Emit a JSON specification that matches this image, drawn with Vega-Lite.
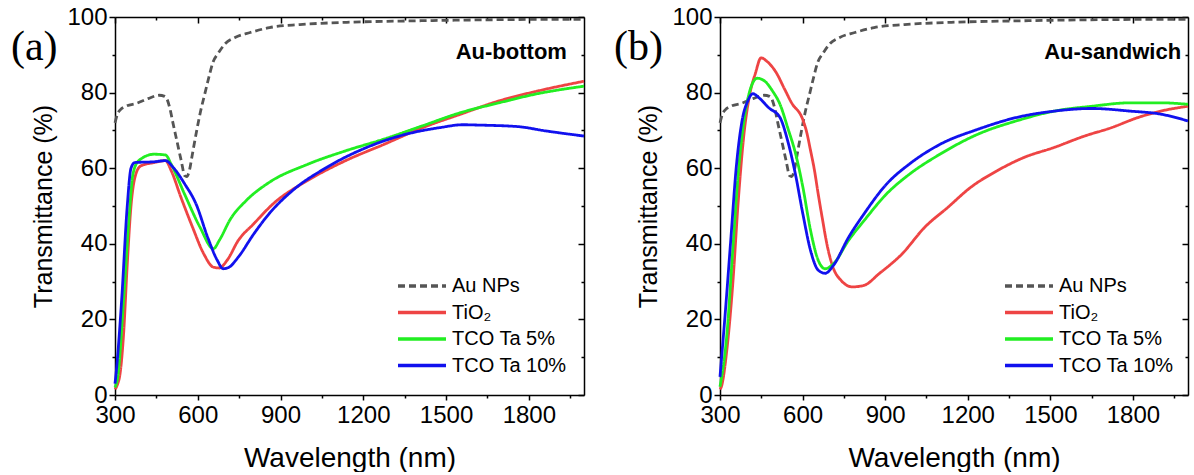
{
  "$schema": "https://vega.github.io/schema/vega-lite/v6.json",
  "padding": {"left": 10, "top": 5, "right": 0, "bottom": 0},
  "spacing": 24,
  "config": {
    "view": {"stroke": null},
    "axis": {"domainColor": "#000", "domainWidth": 1.5, "tickColor": "#000", "tickWidth": 1.5, "labelColor": "#000", "titleColor": "#000", "grid": false, "labelFont": "Liberation Sans", "titleFont": "Liberation Sans", "labelFontSize": 24, "titleFontSize": 25, "titleFontWeight": "normal", "labelFlush": false, "labelOverlap": false, "format": "d"},
    "legend": {"symbolType": "M-2.4,0L2.4,0", "symbolSize": 400, "symbolStrokeWidth": 3.5, "labelFont": "Liberation Sans", "labelFontSize": 20, "labelColor": "#000", "rowPadding": 4.5, "padding": 0, "labelOffset": 18}
  },
  "datasets": {
    "a": [
      {"series": "Au NPs", "wl": 300, "T": 72}, {"series": "Au NPs", "wl": 310, "T": 74.5}, {"series": "Au NPs", "wl": 320, "T": 75.5}, {"series": "Au NPs", "wl": 340, "T": 76.4}, {"series": "Au NPs", "wl": 380, "T": 77.2}, {"series": "Au NPs", "wl": 420, "T": 78.4}, {"series": "Au NPs", "wl": 460, "T": 79.3}, {"series": "Au NPs", "wl": 480, "T": 79}, {"series": "Au NPs", "wl": 490, "T": 78}, {"series": "Au NPs", "wl": 500, "T": 75.5}, {"series": "Au NPs", "wl": 510, "T": 72}, {"series": "Au NPs", "wl": 525, "T": 67}, {"series": "Au NPs", "wl": 540, "T": 62}, {"series": "Au NPs", "wl": 553, "T": 58}, {"series": "Au NPs", "wl": 560, "T": 57.8}, {"series": "Au NPs", "wl": 570, "T": 59.5}, {"series": "Au NPs", "wl": 580, "T": 63.5}, {"series": "Au NPs", "wl": 595, "T": 69.5}, {"series": "Au NPs", "wl": 610, "T": 75}, {"series": "Au NPs", "wl": 625, "T": 79.5}, {"series": "Au NPs", "wl": 640, "T": 84}, {"series": "Au NPs", "wl": 655, "T": 88}, {"series": "Au NPs", "wl": 675, "T": 90.5}, {"series": "Au NPs", "wl": 700, "T": 93}, {"series": "Au NPs", "wl": 735, "T": 94.6}, {"series": "Au NPs", "wl": 790, "T": 95.9}, {"series": "Au NPs", "wl": 860, "T": 97.2}, {"series": "Au NPs", "wl": 970, "T": 98}, {"series": "Au NPs", "wl": 1140, "T": 98.6}, {"series": "Au NPs", "wl": 1400, "T": 99}, {"series": "Au NPs", "wl": 1700, "T": 99.3}, {"series": "Au NPs", "wl": 2000, "T": 99.4},
      {"series": "TiO₂", "wl": 300, "T": 1.5}, {"series": "TiO₂", "wl": 310, "T": 3}, {"series": "TiO₂", "wl": 317, "T": 5}, {"series": "TiO₂", "wl": 331, "T": 16}, {"series": "TiO₂", "wl": 344, "T": 34}, {"series": "TiO₂", "wl": 358, "T": 50}, {"series": "TiO₂", "wl": 372, "T": 57.5}, {"series": "TiO₂", "wl": 393, "T": 60.6}, {"series": "TiO₂", "wl": 442, "T": 61.5}, {"series": "TiO₂", "wl": 483, "T": 62}, {"series": "TiO₂", "wl": 504, "T": 59.3}, {"series": "TiO₂", "wl": 539, "T": 52.3}, {"series": "TiO₂", "wl": 581, "T": 44.4}, {"series": "TiO₂", "wl": 622, "T": 37.3}, {"series": "TiO₂", "wl": 657, "T": 33.8}, {"series": "TiO₂", "wl": 678, "T": 33.6}, {"series": "TiO₂", "wl": 706, "T": 35.6}, {"series": "TiO₂", "wl": 747, "T": 40.9}, {"series": "TiO₂", "wl": 803, "T": 45.3}, {"series": "TiO₂", "wl": 872, "T": 50.5}, {"series": "TiO₂", "wl": 997, "T": 56.7}, {"series": "TiO₂", "wl": 1136, "T": 62}, {"series": "TiO₂", "wl": 1275, "T": 66.3}, {"series": "TiO₂", "wl": 1414, "T": 70.7}, {"series": "TiO₂", "wl": 1553, "T": 74.3}, {"series": "TiO₂", "wl": 1692, "T": 77.8}, {"series": "TiO₂", "wl": 1831, "T": 80.4}, {"series": "TiO₂", "wl": 2000, "T": 83},
      {"series": "TCO Ta 5%", "wl": 300, "T": 2}, {"series": "TCO Ta 5%", "wl": 310, "T": 4.8}, {"series": "TCO Ta 5%", "wl": 331, "T": 25}, {"series": "TCO Ta 5%", "wl": 351, "T": 47}, {"series": "TCO Ta 5%", "wl": 365, "T": 58.4}, {"series": "TCO Ta 5%", "wl": 386, "T": 62}, {"series": "TCO Ta 5%", "wl": 442, "T": 63.7}, {"series": "TCO Ta 5%", "wl": 483, "T": 63.5}, {"series": "TCO Ta 5%", "wl": 504, "T": 61}, {"series": "TCO Ta 5%", "wl": 553, "T": 53}, {"series": "TCO Ta 5%", "wl": 608, "T": 44.4}, {"series": "TCO Ta 5%", "wl": 657, "T": 38.7}, {"series": "TCO Ta 5%", "wl": 678, "T": 40.9}, {"series": "TCO Ta 5%", "wl": 719, "T": 46.6}, {"series": "TCO Ta 5%", "wl": 775, "T": 51.4}, {"series": "TCO Ta 5%", "wl": 858, "T": 56.2}, {"series": "TCO Ta 5%", "wl": 997, "T": 61}, {"series": "TCO Ta 5%", "wl": 1136, "T": 64.6}, {"series": "TCO Ta 5%", "wl": 1275, "T": 67.7}, {"series": "TCO Ta 5%", "wl": 1414, "T": 71.2}, {"series": "TCO Ta 5%", "wl": 1553, "T": 74.7}, {"series": "TCO Ta 5%", "wl": 1692, "T": 77.3}, {"series": "TCO Ta 5%", "wl": 1831, "T": 79.7}, {"series": "TCO Ta 5%", "wl": 2000, "T": 81.7},
      {"series": "TCO Ta 10%", "wl": 300, "T": 3}, {"series": "TCO Ta 10%", "wl": 303, "T": 5}, {"series": "TCO Ta 10%", "wl": 324, "T": 25}, {"series": "TCO Ta 10%", "wl": 344, "T": 49.6}, {"series": "TCO Ta 10%", "wl": 358, "T": 60}, {"series": "TCO Ta 10%", "wl": 372, "T": 61.5}, {"series": "TCO Ta 10%", "wl": 442, "T": 61.7}, {"series": "TCO Ta 10%", "wl": 483, "T": 62}, {"series": "TCO Ta 10%", "wl": 511, "T": 60.2}, {"series": "TCO Ta 10%", "wl": 553, "T": 55.8}, {"series": "TCO Ta 10%", "wl": 594, "T": 50.5}, {"series": "TCO Ta 10%", "wl": 636, "T": 41.7}, {"series": "TCO Ta 10%", "wl": 671, "T": 35.6}, {"series": "TCO Ta 10%", "wl": 692, "T": 33.4}, {"series": "TCO Ta 10%", "wl": 713, "T": 33.8}, {"series": "TCO Ta 10%", "wl": 747, "T": 36.5}, {"series": "TCO Ta 10%", "wl": 803, "T": 42.6}, {"series": "TCO Ta 10%", "wl": 858, "T": 47.9}, {"series": "TCO Ta 10%", "wl": 942, "T": 54}, {"series": "TCO Ta 10%", "wl": 1067, "T": 60.2}, {"series": "TCO Ta 10%", "wl": 1206, "T": 65.3}, {"series": "TCO Ta 10%", "wl": 1345, "T": 68.8}, {"series": "TCO Ta 10%", "wl": 1483, "T": 70.8}, {"series": "TCO Ta 10%", "wl": 1560, "T": 71.5}, {"series": "TCO Ta 10%", "wl": 1622, "T": 71.4}, {"series": "TCO Ta 10%", "wl": 1761, "T": 71}, {"series": "TCO Ta 10%", "wl": 1858, "T": 69.9}, {"series": "TCO Ta 10%", "wl": 2000, "T": 68.5}
    ],
    "b": [
      {"series": "Au NPs", "wl": 300, "T": 72}, {"series": "Au NPs", "wl": 310, "T": 74.5}, {"series": "Au NPs", "wl": 320, "T": 75.5}, {"series": "Au NPs", "wl": 340, "T": 76.4}, {"series": "Au NPs", "wl": 380, "T": 77.2}, {"series": "Au NPs", "wl": 420, "T": 78.4}, {"series": "Au NPs", "wl": 460, "T": 79.3}, {"series": "Au NPs", "wl": 480, "T": 79}, {"series": "Au NPs", "wl": 490, "T": 78}, {"series": "Au NPs", "wl": 500, "T": 75.5}, {"series": "Au NPs", "wl": 510, "T": 72}, {"series": "Au NPs", "wl": 525, "T": 67}, {"series": "Au NPs", "wl": 540, "T": 62}, {"series": "Au NPs", "wl": 553, "T": 58}, {"series": "Au NPs", "wl": 560, "T": 57.8}, {"series": "Au NPs", "wl": 570, "T": 59.5}, {"series": "Au NPs", "wl": 580, "T": 63.5}, {"series": "Au NPs", "wl": 595, "T": 69.5}, {"series": "Au NPs", "wl": 610, "T": 75}, {"series": "Au NPs", "wl": 625, "T": 79.5}, {"series": "Au NPs", "wl": 640, "T": 84}, {"series": "Au NPs", "wl": 655, "T": 88}, {"series": "Au NPs", "wl": 675, "T": 90.5}, {"series": "Au NPs", "wl": 700, "T": 93}, {"series": "Au NPs", "wl": 735, "T": 94.6}, {"series": "Au NPs", "wl": 790, "T": 95.9}, {"series": "Au NPs", "wl": 860, "T": 97.2}, {"series": "Au NPs", "wl": 970, "T": 98}, {"series": "Au NPs", "wl": 1140, "T": 98.6}, {"series": "Au NPs", "wl": 1400, "T": 99}, {"series": "Au NPs", "wl": 1700, "T": 99.3}, {"series": "Au NPs", "wl": 2000, "T": 99.4},
      {"series": "TiO₂", "wl": 300, "T": 1.5}, {"series": "TiO₂", "wl": 304, "T": 2}, {"series": "TiO₂", "wl": 325, "T": 12}, {"series": "TiO₂", "wl": 346, "T": 29}, {"series": "TiO₂", "wl": 366, "T": 51}, {"series": "TiO₂", "wl": 387, "T": 69}, {"series": "TiO₂", "wl": 408, "T": 79.5}, {"series": "TiO₂", "wl": 429, "T": 85.2}, {"series": "TiO₂", "wl": 449, "T": 89.2}, {"series": "TiO₂", "wl": 470, "T": 88.3}, {"series": "TiO₂", "wl": 505, "T": 85.2}, {"series": "TiO₂", "wl": 532, "T": 81.3}, {"series": "TiO₂", "wl": 560, "T": 77.3}, {"series": "TiO₂", "wl": 601, "T": 72.8}, {"series": "TiO₂", "wl": 615, "T": 69.5}, {"series": "TiO₂", "wl": 628, "T": 65}, {"series": "TiO₂", "wl": 643, "T": 59.5}, {"series": "TiO₂", "wl": 656, "T": 53.5}, {"series": "TiO₂", "wl": 671, "T": 47}, {"series": "TiO₂", "wl": 691, "T": 39}, {"series": "TiO₂", "wl": 712, "T": 33.5}, {"series": "TiO₂", "wl": 740, "T": 30.3}, {"series": "TiO₂", "wl": 781, "T": 28.6}, {"series": "TiO₂", "wl": 823, "T": 29}, {"series": "TiO₂", "wl": 878, "T": 32.1}, {"series": "TiO₂", "wl": 961, "T": 37.3}, {"series": "TiO₂", "wl": 1044, "T": 44.4}, {"series": "TiO₂", "wl": 1127, "T": 49.6}, {"series": "TiO₂", "wl": 1210, "T": 54.9}, {"series": "TiO₂", "wl": 1306, "T": 59.3}, {"series": "TiO₂", "wl": 1403, "T": 62.8}, {"series": "TiO₂", "wl": 1514, "T": 65.5}, {"series": "TiO₂", "wl": 1624, "T": 68.5}, {"series": "TiO₂", "wl": 1721, "T": 70.7}, {"series": "TiO₂", "wl": 1818, "T": 73.4}, {"series": "TiO₂", "wl": 1901, "T": 75.1}, {"series": "TiO₂", "wl": 2000, "T": 76.4},
      {"series": "TCO Ta 5%", "wl": 300, "T": 2.2}, {"series": "TCO Ta 5%", "wl": 325, "T": 16}, {"series": "TCO Ta 5%", "wl": 346, "T": 38}, {"series": "TCO Ta 5%", "wl": 366, "T": 58.4}, {"series": "TCO Ta 5%", "wl": 387, "T": 72.5}, {"series": "TCO Ta 5%", "wl": 408, "T": 80.4}, {"series": "TCO Ta 5%", "wl": 435, "T": 83.8}, {"series": "TCO Ta 5%", "wl": 463, "T": 83}, {"series": "TCO Ta 5%", "wl": 491, "T": 80.4}, {"series": "TCO Ta 5%", "wl": 518, "T": 76.9}, {"series": "TCO Ta 5%", "wl": 546, "T": 70.7}, {"series": "TCO Ta 5%", "wl": 574, "T": 64}, {"series": "TCO Ta 5%", "wl": 601, "T": 55}, {"series": "TCO Ta 5%", "wl": 629, "T": 43.5}, {"series": "TCO Ta 5%", "wl": 657, "T": 35.6}, {"series": "TCO Ta 5%", "wl": 682, "T": 33.4}, {"series": "TCO Ta 5%", "wl": 712, "T": 34.7}, {"series": "TCO Ta 5%", "wl": 767, "T": 40.9}, {"series": "TCO Ta 5%", "wl": 823, "T": 46.1}, {"series": "TCO Ta 5%", "wl": 905, "T": 53.2}, {"series": "TCO Ta 5%", "wl": 988, "T": 58.4}, {"series": "TCO Ta 5%", "wl": 1099, "T": 63.7}, {"series": "TCO Ta 5%", "wl": 1237, "T": 69}, {"series": "TCO Ta 5%", "wl": 1376, "T": 72.5}, {"series": "TCO Ta 5%", "wl": 1514, "T": 75.1}, {"series": "TCO Ta 5%", "wl": 1652, "T": 76.4}, {"series": "TCO Ta 5%", "wl": 1790, "T": 77.3}, {"series": "TCO Ta 5%", "wl": 1901, "T": 77.3}, {"series": "TCO Ta 5%", "wl": 2000, "T": 76.9},
      {"series": "TCO Ta 10%", "wl": 300, "T": 4.8}, {"series": "TCO Ta 10%", "wl": 318, "T": 20.7}, {"series": "TCO Ta 10%", "wl": 339, "T": 40.9}, {"series": "TCO Ta 10%", "wl": 359, "T": 60.2}, {"series": "TCO Ta 10%", "wl": 380, "T": 72.5}, {"series": "TCO Ta 10%", "wl": 401, "T": 77.8}, {"series": "TCO Ta 10%", "wl": 419, "T": 79.7}, {"series": "TCO Ta 10%", "wl": 442, "T": 78.6}, {"series": "TCO Ta 10%", "wl": 477, "T": 76}, {"series": "TCO Ta 10%", "wl": 518, "T": 73.4}, {"series": "TCO Ta 10%", "wl": 546, "T": 67.2}, {"series": "TCO Ta 10%", "wl": 574, "T": 58.4}, {"series": "TCO Ta 10%", "wl": 601, "T": 47.9}, {"series": "TCO Ta 10%", "wl": 629, "T": 38.2}, {"series": "TCO Ta 10%", "wl": 657, "T": 33}, {"series": "TCO Ta 10%", "wl": 682, "T": 32.2}, {"series": "TCO Ta 10%", "wl": 712, "T": 34.3}, {"series": "TCO Ta 10%", "wl": 767, "T": 41.7}, {"series": "TCO Ta 10%", "wl": 823, "T": 47.9}, {"series": "TCO Ta 10%", "wl": 905, "T": 55.8}, {"series": "TCO Ta 10%", "wl": 988, "T": 61.1}, {"series": "TCO Ta 10%", "wl": 1099, "T": 66.3}, {"series": "TCO Ta 10%", "wl": 1237, "T": 70.3}, {"series": "TCO Ta 10%", "wl": 1376, "T": 73.4}, {"series": "TCO Ta 10%", "wl": 1514, "T": 75.1}, {"series": "TCO Ta 10%", "wl": 1652, "T": 75.8}, {"series": "TCO Ta 10%", "wl": 1790, "T": 75.1}, {"series": "TCO Ta 10%", "wl": 1901, "T": 74.3}, {"series": "TCO Ta 10%", "wl": 2000, "T": 72.5}
    ]
  },
  "hconcat": [
    {
      "width": 469, "height": 378,
      "data": {"name": "a"},
      "layer": [
        {
          "mark": {"type": "line", "strokeWidth": 2.8, "interpolate": "monotone"},
          "encoding": {
            "x": {"field": "wl", "type": "quantitative", "scale": {"domain": [300, 2000], "nice": false}, "axis": {"orient": "bottom", "values": [300, 600, 900, 1200, 1500, 1800], "tickSize": 5, "labelPadding": 3, "title": "Wavelength (nm)", "titleFontSize": 28, "titlePadding": 17}},
            "y": {"field": "T", "type": "quantitative", "scale": {"domain": [0, 100], "nice": false}, "axis": {"orient": "left", "values": [0, 20, 40, 60, 80, 100], "tickSize": 6, "labelPadding": 2, "title": "Transmittance (%)", "titlePadding": 10}},
            "color": {"field": "series", "type": "nominal", "scale": {"domain": ["Au NPs", "TiO₂", "TCO Ta 5%", "TCO Ta 10%"], "range": ["#555555", "#EE4444", "#22EE22", "#1111EE"]}, "legend": {"orient": "none", "legendX": 295, "legendY": 257, "title": null}},
            "strokeDash": {"field": "series", "type": "nominal", "scale": {"domain": ["Au NPs", "TiO₂", "TCO Ta 5%", "TCO Ta 10%"], "range": [[7, 4], [1, 0], [1, 0], [1, 0]]}, "legend": {"orient": "none", "legendX": 295, "legendY": 257, "title": null}}
          }
        },
        {
          "mark": {"type": "point", "opacity": 0},
          "encoding": {
            "x": {"field": "wl", "type": "quantitative", "scale": {"domain": [300, 2000], "nice": false}, "axis": {"orient": "bottom", "values": [450, 750, 1050, 1350, 1650, 1950], "tickSize": 3, "labels": false, "domain": false, "title": null}},
            "y": {"field": "T", "type": "quantitative", "scale": {"domain": [0, 100], "nice": false}, "axis": {"orient": "left", "values": [10, 30, 50, 70, 90], "tickSize": 3, "labels": false, "domain": false, "title": null}}
          }
        },
        {
          "mark": {"type": "point", "opacity": 0},
          "encoding": {
            "x": {"field": "wl", "type": "quantitative", "scale": {"domain": [300, 2000], "nice": false}, "axis": {"orient": "top", "values": [300, 600, 900, 1200, 1500, 1800], "tickSize": -6, "labels": false, "title": null}},
            "y": {"field": "T", "type": "quantitative", "scale": {"domain": [0, 100], "nice": false}, "axis": {"orient": "right", "values": [0, 20, 40, 60, 80, 100], "tickSize": -6, "labels": false, "title": null}}
          }
        },
        {
          "mark": {"type": "point", "opacity": 0},
          "encoding": {
            "x": {"field": "wl", "type": "quantitative", "scale": {"domain": [300, 2000], "nice": false}, "axis": {"orient": "top", "values": [450, 750, 1050, 1350, 1650, 1950], "tickSize": -3, "labels": false, "domain": false, "title": null}},
            "y": {"field": "T", "type": "quantitative", "scale": {"domain": [0, 100], "nice": false}, "axis": {"orient": "right", "values": [10, 30, 50, 70, 90], "tickSize": -3, "labels": false, "domain": false, "title": null}}
          }
        },
        {
          "data": {"values": [{"label": "(a)"}]},
          "mark": {"type": "text", "font": "Liberation Serif", "fontSize": 42, "align": "left", "baseline": "alphabetic", "color": "#000"},
          "encoding": {
            "text": {"field": "label"},
            "x": {"datum": -77, "type": "quantitative", "scale": {"domain": [300, 2000], "nice": false}, "axis": null},
            "y": {"datum": 88.6, "type": "quantitative", "scale": {"domain": [0, 100], "nice": false}, "axis": null}
          }
        },
        {
          "data": {"values": [{"label": "Au-bottom"}]},
          "mark": {"type": "text", "font": "Liberation Sans", "fontSize": 22, "fontWeight": "bold", "align": "right", "baseline": "alphabetic", "color": "#000"},
          "encoding": {
            "text": {"field": "label"},
            "x": {"datum": 1938, "type": "quantitative", "scale": {"domain": [300, 2000], "nice": false}, "axis": null},
            "y": {"datum": 88.9, "type": "quantitative", "scale": {"domain": [0, 100], "nice": false}, "axis": null}
          }
        }
      ],
      "resolve": {"axis": {"x": "independent", "y": "independent"}}
    },
    {
      "width": 468, "height": 378,
      "data": {"name": "b"},
      "layer": [
        {
          "mark": {"type": "line", "strokeWidth": 2.8, "interpolate": "monotone"},
          "encoding": {
            "x": {"field": "wl", "type": "quantitative", "scale": {"domain": [300, 2000], "nice": false}, "axis": {"orient": "bottom", "values": [300, 600, 900, 1200, 1500, 1800], "tickSize": 5, "labelPadding": 3, "title": "Wavelength (nm)", "titleFontSize": 28, "titlePadding": 17}},
            "y": {"field": "T", "type": "quantitative", "scale": {"domain": [0, 100], "nice": false}, "axis": {"orient": "left", "values": [0, 20, 40, 60, 80, 100], "tickSize": 6, "labelPadding": 2, "title": "Transmittance (%)", "titlePadding": 10}},
            "color": {"field": "series", "type": "nominal", "scale": {"domain": ["Au NPs", "TiO₂", "TCO Ta 5%", "TCO Ta 10%"], "range": ["#555555", "#EE4444", "#22EE22", "#1111EE"]}, "legend": {"orient": "none", "legendX": 297, "legendY": 257, "title": null}},
            "strokeDash": {"field": "series", "type": "nominal", "scale": {"domain": ["Au NPs", "TiO₂", "TCO Ta 5%", "TCO Ta 10%"], "range": [[7, 4], [1, 0], [1, 0], [1, 0]]}, "legend": {"orient": "none", "legendX": 297, "legendY": 257, "title": null}}
          }
        },
        {
          "mark": {"type": "point", "opacity": 0},
          "encoding": {
            "x": {"field": "wl", "type": "quantitative", "scale": {"domain": [300, 2000], "nice": false}, "axis": {"orient": "bottom", "values": [450, 750, 1050, 1350, 1650, 1950], "tickSize": 3, "labels": false, "domain": false, "title": null}},
            "y": {"field": "T", "type": "quantitative", "scale": {"domain": [0, 100], "nice": false}, "axis": {"orient": "left", "values": [10, 30, 50, 70, 90], "tickSize": 3, "labels": false, "domain": false, "title": null}}
          }
        },
        {
          "mark": {"type": "point", "opacity": 0},
          "encoding": {
            "x": {"field": "wl", "type": "quantitative", "scale": {"domain": [300, 2000], "nice": false}, "axis": {"orient": "top", "values": [300, 600, 900, 1200, 1500, 1800], "tickSize": -6, "labels": false, "title": null}},
            "y": {"field": "T", "type": "quantitative", "scale": {"domain": [0, 100], "nice": false}, "axis": {"orient": "right", "values": [0, 20, 40, 60, 80, 100], "tickSize": -6, "labels": false, "title": null}}
          }
        },
        {
          "mark": {"type": "point", "opacity": 0},
          "encoding": {
            "x": {"field": "wl", "type": "quantitative", "scale": {"domain": [300, 2000], "nice": false}, "axis": {"orient": "top", "values": [450, 750, 1050, 1350, 1650, 1950], "tickSize": -3, "labels": false, "domain": false, "title": null}},
            "y": {"field": "T", "type": "quantitative", "scale": {"domain": [0, 100], "nice": false}, "axis": {"orient": "right", "values": [10, 30, 50, 70, 90], "tickSize": -3, "labels": false, "domain": false, "title": null}}
          }
        },
        {
          "data": {"values": [{"label": "(b)"}]},
          "mark": {"type": "text", "font": "Liberation Serif", "fontSize": 42, "align": "left", "baseline": "alphabetic", "color": "#000"},
          "encoding": {
            "text": {"field": "label"},
            "x": {"datum": -85, "type": "quantitative", "scale": {"domain": [300, 2000], "nice": false}, "axis": null},
            "y": {"datum": 88.6, "type": "quantitative", "scale": {"domain": [0, 100], "nice": false}, "axis": null}
          }
        },
        {
          "data": {"values": [{"label": "Au-sandwich"}]},
          "mark": {"type": "text", "font": "Liberation Sans", "fontSize": 22, "fontWeight": "bold", "align": "right", "baseline": "alphabetic", "color": "#000"},
          "encoding": {
            "text": {"field": "label"},
            "x": {"datum": 1975, "type": "quantitative", "scale": {"domain": [300, 2000], "nice": false}, "axis": null},
            "y": {"datum": 88.9, "type": "quantitative", "scale": {"domain": [0, 100], "nice": false}, "axis": null}
          }
        }
      ],
      "resolve": {"axis": {"x": "independent", "y": "independent"}}
    }
  ],
  "resolve": {"scale": {"color": "independent", "strokeDash": "independent"}, "legend": {"color": "independent", "strokeDash": "independent"}}
}
